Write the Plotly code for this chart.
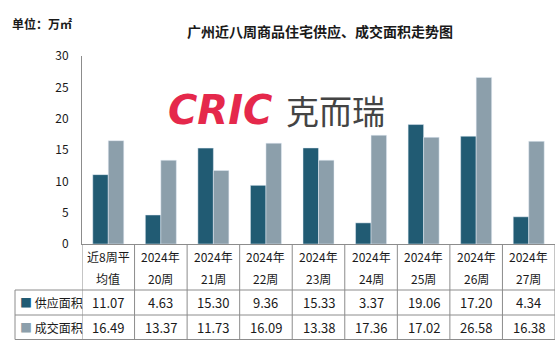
import plotly.graph_objects as go

categories = ["近8周平均值", "2024年20周", "2024年21周", "2024年22周", "2024年23周",
              "2024年24周", "2024年25周", "2024年26周", "2024年27周"]
cat_line1 = ["近8周平", "2024年", "2024年", "2024年", "2024年", "2024年", "2024年", "2024年", "2024年"]
cat_line2 = ["均值", "20周", "21周", "22周", "23周", "24周", "25周", "26周", "27周"]
supply = [11.07, 4.63, 15.30, 9.36, 15.33, 3.37, 19.06, 17.20, 4.34]
deal = [16.49, 13.37, 11.73, 16.09, 13.38, 17.36, 17.02, 26.58, 16.38]
series_names = ["供应面积", "成交面积"]
colors = ["#215b73", "#8c9fab"]
y_ticks = [0, 5, 10, 15, 20, 25, 30]

FONT = "Noto Sans CJK SC"
x_idx = list(range(len(categories)))

fig = go.Figure()
fig.add_trace(go.Bar(x=x_idx, y=supply, name=series_names[0], marker_color=colors[0]))
fig.add_trace(go.Bar(x=x_idx, y=deal, name=series_names[1], marker_color=colors[1]))

W, H = 559, 340
L, R, T, B = 82, 4, 56, 96
pw, ph = W - L - R, H - T - B


def py(pix):  # pixel y -> paper y
    return (H - B - pix) / ph


def px(pix):
    return (pix - L) / pw


line_col = "#8c8c8c"
shapes = []
y_r1 = py(290)
y_r2 = py(315)
y_r3 = py(339.5)
for yy in (y_r1, y_r2, y_r3):
    shapes.append(dict(type="line", xref="paper", yref="paper", x0=px(15), x1=1.0,
                       y0=yy, y1=yy, line=dict(color=line_col, width=1)))
for i in range(len(categories) + 1):
    shapes.append(dict(type="line", xref="x", yref="paper", x0=i - 0.5, x1=i - 0.5,
                       y0=0, y1=y_r3, line=dict(color=line_col, width=1)))
shapes.append(dict(type="line", xref="paper", yref="paper", x0=px(15), x1=px(15),
                   y0=y_r1, y1=y_r3, line=dict(color=line_col, width=1)))

ann = []
tf = dict(family=FONT, size=12, color="#1a1a1a")
for i in x_idx:
    ann.append(dict(x=i, y=py(256), xref="x", yref="paper", text=cat_line1[i],
                    showarrow=False, font=tf, xanchor="center", yanchor="middle"))
    ann.append(dict(x=i, y=py(278), xref="x", yref="paper", text=cat_line2[i],
                    showarrow=False, font=tf, xanchor="center", yanchor="middle"))
    ann.append(dict(x=i, y=py(302.5), xref="x", yref="paper", text=f"{supply[i]:.2f}",
                    showarrow=False, font=dict(family=FONT, size=13, color="#1a1a1a"),
                    xanchor="center", yanchor="middle"))
    ann.append(dict(x=i, y=py(327.5), xref="x", yref="paper", text=f"{deal[i]:.2f}",
                    showarrow=False, font=dict(family=FONT, size=13, color="#1a1a1a"),
                    xanchor="center", yanchor="middle"))
for k, yy in enumerate((302.5, 327.5)):
    ann.append(dict(x=px(18), y=py(yy), xref="paper", yref="paper",
                    text=f"<span style='color:{colors[k]}'>■</span> {series_names[k]}",
                    showarrow=False, font=tf, xanchor="left", yanchor="middle"))

ann.append(dict(x=px(320), y=py(31), xref="paper", yref="paper",
                text="<b>广州近八周商品住宅供应、成交面积走势图</b>", showarrow=False,
                font=dict(family=FONT, size=14, color="#1a1a1a"), xanchor="center", yanchor="middle"))
ann.append(dict(x=px(10), y=py(23), xref="paper", yref="paper",
                text="<b>单位：万㎡</b>", showarrow=False,
                font=dict(family=FONT, size=12, color="#1a1a1a"), xanchor="left", yanchor="middle"))
ann.append(dict(x=px(166), y=py(110), xref="paper", yref="paper",
                text="<b><i>CRIC</i></b>", showarrow=False,
                font=dict(family="DejaVu Sans", size=40, color="#e5284b"), xanchor="left", yanchor="middle"))
ann.append(dict(x=px(284), y=py(110), xref="paper", yref="paper",
                text="克而瑞", showarrow=False,
                font=dict(family=FONT, size=33, color="#444444"), xanchor="left", yanchor="middle"))

fig.update_layout(
    width=W, height=H,
    margin=dict(l=L, r=R, t=T, b=B),
    paper_bgcolor="white", plot_bgcolor="white",
    barmode="group", bargap=0.41, bargroupgap=0,
    showlegend=False,
    shapes=shapes, annotations=ann,
    font=dict(family=FONT, size=12, color="#1a1a1a"),
    xaxis=dict(range=[-0.5, len(categories) - 0.5], showticklabels=False, showgrid=False,
               zeroline=False, showline=True, linecolor=line_col, linewidth=1, ticks=""),
    yaxis=dict(range=[0, 30], tickvals=y_ticks, showgrid=False, zeroline=False,
               showline=True, linecolor=line_col, linewidth=1, ticks="",
               ticklabelstandoff=10, tickfont=dict(family=FONT, size=12, color="#1a1a1a")),
)

fig.write_html("out.html")
